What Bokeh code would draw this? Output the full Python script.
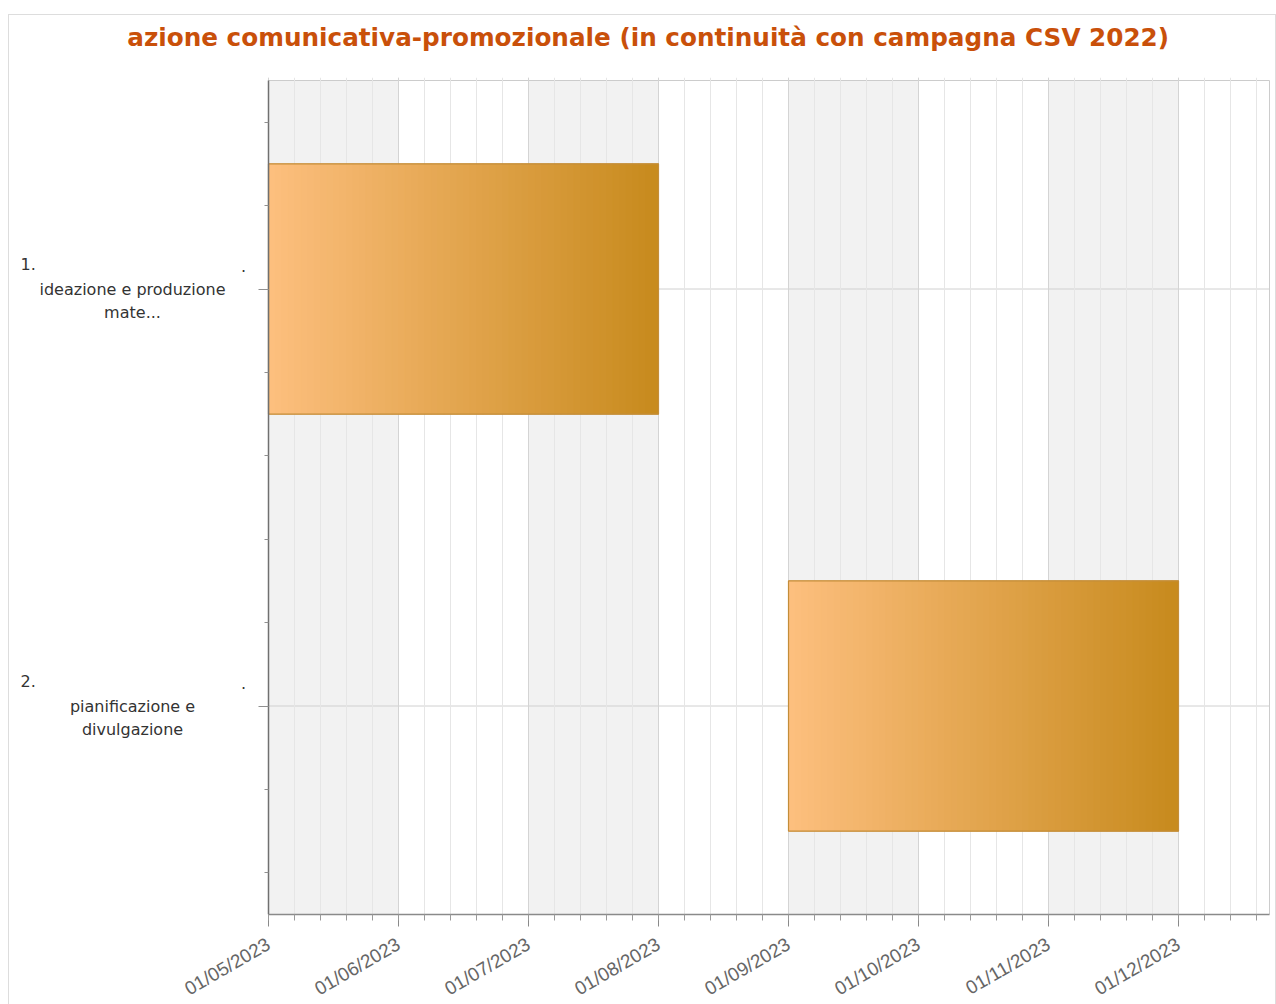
import math
import datetime as dt
import numpy as np
from bokeh.plotting import figure
from bokeh.layouts import column
from bokeh.models import Range1d, FixedTicker, ColumnDataSource
from bokeh.core.properties import value
from bokeh.embed import file_html
from bokeh.resources import INLINE

# ---------------- data ----------------
title_text = "azione comunicativa-promozionale (in continuità con campagna CSV 2022)"
task_numbers = ["1.", "2."]
task_line1 = ["ideazione e produzione", "pianificazione e"]
task_line2 = ["mate...", "divulgazione"]
task_start = ["2023-05-01", "2023-09-01"]
task_end = ["2023-08-01", "2023-12-01"]
tick_dates = ["2023-05-01", "2023-06-01", "2023-07-01", "2023-08-01",
              "2023-09-01", "2023-10-01", "2023-11-01", "2023-12-01"]
tick_labels = ["01/05/2023", "01/06/2023", "01/07/2023", "01/08/2023",
               "01/09/2023", "01/10/2023", "01/11/2023", "01/12/2023"]
axis_start = "2023-05-01"
axis_months = 7.7  # visible span in months

# ---------------- helpers ----------------
def month_pos(s):
    d = dt.date.fromisoformat(s)
    d0 = dt.date.fromisoformat(axis_start)
    nxt = dt.date(d.year + (d.month // 12), d.month % 12 + 1, 1)
    dim = (nxt - dt.date(d.year, d.month, 1)).days
    return (d.year - d0.year) * 12 + (d.month - d0.month) + (d.day - 1) / dim

ROW_SPAN = 5.0
rows = [ROW_SPAN * i + ROW_SPAN / 2 for i in range(len(task_numbers))]
y_max = ROW_SPAN * len(task_numbers)
half_h = 1.5

ticks = [month_pos(d) for d in tick_dates]
minor = []
t = 0.0
while t <= axis_months + 1e-9:
    minor.append(round(t, 4))
    t += 0.2

# layout sizes (px)
TOTAL_W = 1266
TITLE_H = 60
TOP_PAD = 2
PLOT_W = 1001          # width of the dated plot area
PLOT_H = 834
LABEL_AREA = 259       # room for category labels left of the axis
EXTRA = 3              # small pad so the plot border is not clipped
BOTTOM = 89
px_per_month = PLOT_W / axis_months
px_per_unit = PLOT_H / y_max
FRAME_W = LABEL_AREA + PLOT_W + EXTRA
FRAME_H = PLOT_H + EXTRA
RIGHT_PAD = TOTAL_W - FRAME_W

# ---------------- title strip ----------------
tfig = figure(width=TOTAL_W, height=TITLE_H, x_range=Range1d(0, TOTAL_W), y_range=Range1d(TITLE_H, 0),
              min_border=0, output_backend="svg", toolbar_location=None,
              x_axis_location=None, y_axis_location=None, outline_line_color=None)
tfig.grid.visible = False
tfig.text(x=[118], y=[22], text=[title_text], text_font=value("DejaVu Sans"),
          text_font_style="bold", text_font_size="24.7px", text_color="#c9500a",
          text_align="left", text_baseline="middle")

# ---------------- main chart ----------------
p = figure(frame_width=FRAME_W, frame_height=FRAME_H,
           x_range=Range1d(-LABEL_AREA / px_per_month, axis_months + EXTRA / px_per_month),
           y_range=Range1d(y_max, -EXTRA / px_per_unit),
           min_border_left=0, min_border_right=RIGHT_PAD,
           min_border_top=TOP_PAD, min_border_bottom=BOTTOM,
           output_backend="svg", toolbar_location=None,
           background_fill_color="white", border_fill_color="white")
p.outline_line_color = None

# month bands (alternating)
band_l, band_r = [], []
for i, tk in enumerate(ticks):
    if i % 2 == 0:
        band_l.append(tk)
        band_r.append(min(tk + 1, axis_months))
p.quad(left=band_l, right=band_r, bottom=0, top=y_max, fill_color="#f2f2f2",
       line_color=None, level="image")

# horizontal grid lines at the task rows (only across the dated area)
p.segment(x0=[0] * len(rows), x1=[axis_months] * len(rows), y0=rows, y1=rows,
          line_color="#d0d0d0", line_width=1, level="underlay")

# plot-area border
p.quad(left=[0], right=[axis_months], top=[0], bottom=[y_max], fill_color=None,
       line_color="#cccccc", line_width=1, level="underlay")

# bars with horizontal gradient
c0 = np.array([253, 191, 126])
c1 = np.array([200, 139, 30])
N = 60
for s, e, r in zip(task_start, task_end, rows):
    x0, x1 = month_pos(s), month_pos(e)
    edges = np.linspace(x0, x1, N + 1)
    cols = []
    for k in range(N):
        f = k / (N - 1)
        c = (c0 * (1 - f) + c1 * f).astype(int)
        cols.append("#%02x%02x%02x" % tuple(c))
    p.quad(left=edges[:-1], right=edges[1:], bottom=r + half_h, top=r - half_h,
           fill_color=cols, line_color=cols, line_width=1)
    p.quad(left=[x0], right=[x1], bottom=[r + half_h], top=[r - half_h],
           fill_color=None, line_color="#c38d3a", line_width=1.2)

# x axis
xt = FixedTicker(ticks=ticks, minor_ticks=minor)
p.xaxis.ticker = xt
p.xaxis.bounds = (0, axis_months)
p.xaxis.major_label_overrides = {tk: l for tk, l in zip(ticks, tick_labels)}
p.xaxis.major_label_orientation = math.pi / 6
p.xaxis.major_label_text_font = "Liberation Sans"
p.xaxis.major_label_text_font_size = "19px"
p.xaxis.major_label_text_color = "#666666"
p.xaxis.major_label_standoff = 16
p.xaxis.axis_line_color = "#8a8a8a"
p.xaxis.axis_line_width = 1.5
p.xaxis.major_tick_line_color = "#8a8a8a"
p.xaxis.minor_tick_line_color = "#9a9a9a"
p.xaxis.major_tick_in = 0
p.xaxis.major_tick_out = 12
p.xaxis.minor_tick_in = 0
p.xaxis.minor_tick_out = 6

# y axis, drawn at the start of the dated area
yt = FixedTicker(ticks=rows, minor_ticks=[k + 0.5 for k in range(int(y_max))])
p.yaxis.ticker = yt
p.yaxis.fixed_location = 0
p.yaxis.bounds = (0, y_max)
p.yaxis.major_label_overrides = {r: "" for r in rows}
p.yaxis.major_label_standoff = 0
p.yaxis.axis_line_color = "#707070"
p.yaxis.axis_line_width = 1.5
p.yaxis.major_tick_line_color = "#909090"
p.yaxis.minor_tick_line_color = "#909090"
p.yaxis.major_tick_out = 0
p.yaxis.major_tick_in = -10
p.yaxis.minor_tick_out = 0
p.yaxis.minor_tick_in = -4

p.xgrid.ticker = xt
p.xgrid.grid_line_color = "#d4d4d4"
p.xgrid.minor_grid_line_color = "#e6e6e6"
p.ygrid.visible = False

# category labels, placed left of the y axis
src = ColumnDataSource(dict(y=rows, x=[0] * len(rows), num=task_numbers, l1=task_line1,
                            l2=task_line2, dot=["." for _ in rows]))
common = dict(x="x", y="y", source=src, text_font=value("DejaVu Sans"),
              text_font_size="16px", text_color="#333333", text_baseline="middle")
p.text(text="num", text_align="left", x_offset=-248, y_offset=-25, **common)
p.text(text="dot", text_align="center", x_offset=-25, y_offset=-23, **common)
p.text(text="l1", text_align="center", x_offset=-136, y_offset=0, **common)
p.text(text="l2", text_align="center", x_offset=-136, y_offset=23, **common)

layout = column(tfig, p, spacing=0,
                styles={"border": "1px solid #dddddd", "margin-left": "8px", "margin-top": "14px"})

open("out.html", "w").write(file_html(layout, INLINE))
